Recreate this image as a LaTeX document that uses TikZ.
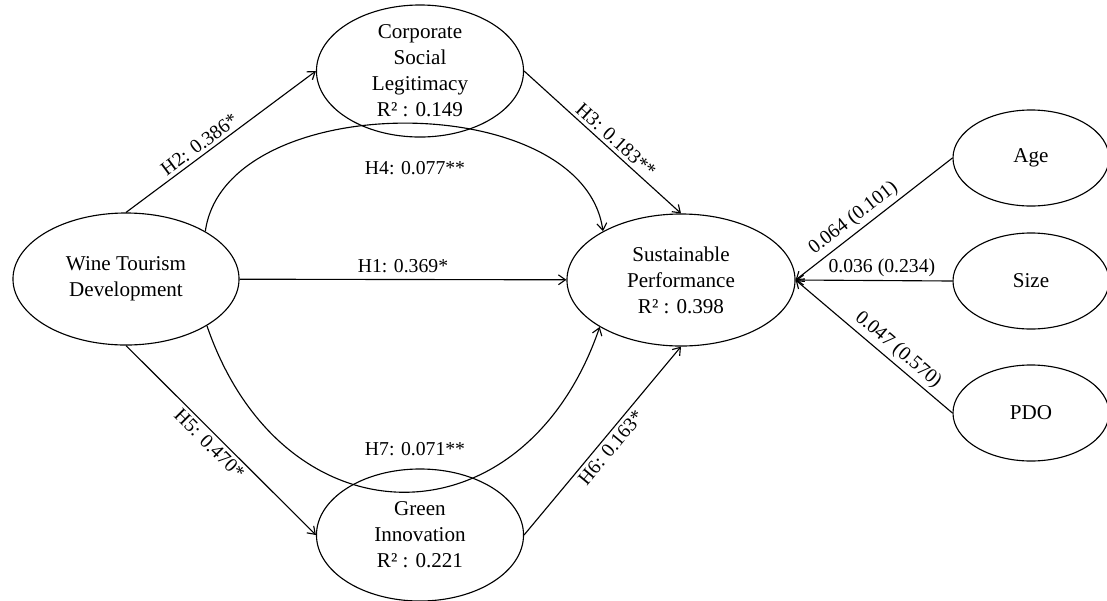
\documentclass[tikz,border=0pt]{standalone}
\usepackage{fontspec}
\setmainfont{Liberation Serif}
\usetikzlibrary{shapes.geometric,arrows.meta}

\begin{document}
\begin{tikzpicture}[x=0.025cm,y=-0.025cm,
	construct/.style={draw,ellipse,inner sep=-2pt,align=center,line width=0.8pt,font=\fontsize{15}{18.5}\selectfont},
	ctrl/.style={construct,minimum width=3.9cm,minimum height=2.4cm},
	hyp/.style={line width=0.8pt,-{Straight Barb[length=5pt,width=7pt]}},
	coef/.style={font=\fontsize{14}{16}\selectfont,inner sep=2.5pt}]
	\useasboundingbox (0,0) rectangle (1107,600);
	\node[construct,minimum width=5.65cm,minimum height=3.3cm] (wtd) at (126,279) {Wine Tourism\\Development};
	\node[construct,minimum width=5.175cm,minimum height=3.3cm] (csl) at (420,71) {Corporate\\Social\\Legitimacy\\R² : 0.149};
	\node[construct,minimum width=5.175cm,minimum height=3.3cm] (gi) at (420,535) {Green\\Innovation\\R² : 0.221};
	\node[construct,minimum width=5.7cm,minimum height=3.3cm] (sp) at (681,280) {Sustainable\\Performance\\R² : 0.398};
	\node[ctrl] (age) at (1031,158) {Age};
	\node[ctrl] (size) at (1031,281) {Size};
	\node[ctrl] (pdo) at (1031,413) {PDO};

	\draw[hyp] (wtd) -- node[coef,above=2pt] (h1) {H1: 0.369*} (sp);
	\draw[hyp] (wtd.north) -- node[coef,sloped,above,pos=0.42] (h2) {H2: 0.386*} (csl.west);
	\draw[hyp] (csl.east) -- node[coef,sloped,above,pos=0.54] (h3) {H3: 0.183**} (sp.north);
	\draw[hyp] (wtd.south) -- node[coef,sloped,below,pos=0.48] (h5) {H5: 0.470*} (gi.west);
	\draw[hyp] (gi.east) -- node[coef,sloped,below,pos=0.5] (h6) {H6: 0.163*} (sp.south);

	\draw[hyp] (wtd.31) .. controls +(20,-144) and +(-20,-144) .. (sp.148);
	\node[coef] (h4) at (415,168) {H4: 0.077**};
	\draw[hyp] (wtd.-30) .. controls +(76,221) and +(-76,221) .. (sp.-150);
	\node[coef] (h7) at (415,449) {H7: 0.071**};

	\draw[hyp] (age.west) -- node[coef,sloped,above,pos=0.58] (c1) {0.064 (0.101)} (sp.east);
	\draw[hyp] (size.west) -- node[coef,above,pos=0.45] (c2) {0.036 (0.234)} (sp.east);
	\draw[hyp] (pdo.west) -- node[coef,sloped,above,pos=0.40] (c3) {0.047 (0.570)} (sp.east);
\end{tikzpicture}
\end{document}
